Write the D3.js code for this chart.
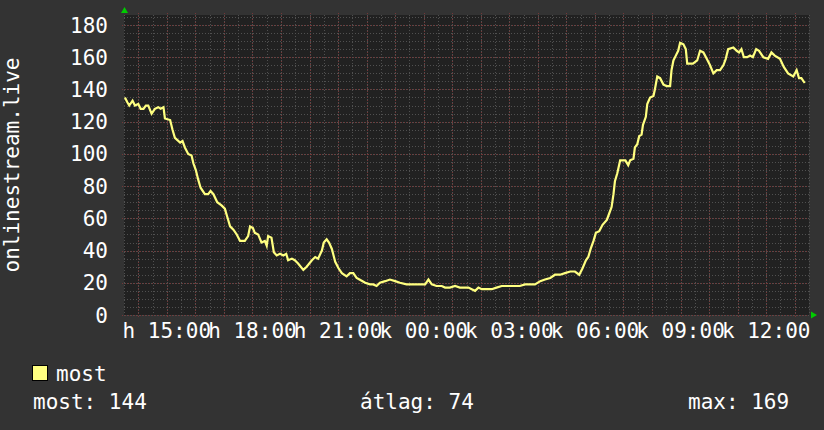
<!DOCTYPE html>
<html>
<head>
<meta charset="utf-8">
<script src="https://cdn.jsdelivr.net/npm/d3@7"></script>
<style>
  body { margin: 0; background: #333333; }
  svg text { font-family: 'DejaVu Sans Mono', monospace; fill: #ffffff; }
</style>
</head>
<body>
<div id="chart"></div>
<script>
// minutes after Monday 13:30
var mins = [2, 7, 11, 18, 23, 30, 35, 41, 46, 51,
  58, 65, 72, 77, 83, 86, 97, 102, 107, 118,
  123, 128, 135, 142, 146, 151, 156, 161, 170, 177,
  182, 188, 196, 205, 212, 217, 223, 230, 237, 244,
  254, 261, 265, 271, 275, 282, 289, 296, 300, 303,
  310, 315, 321, 328, 335, 341, 345, 353, 359, 366,
  377, 384, 395, 402, 408, 416, 420, 426, 431, 437,
  444, 451, 458, 468, 475, 482, 489, 495,
  507, 517, 524, 531, 538, 549, 559, 570, 580, 594,
  608, 622, 633, 640, 647, 657, 668, 675, 685, 696,
  706, 717, 724, 731, 738, 745, 752, 762, 773, 783,
  794, 805, 818, 832, 843, 853, 864, 875, 885, 896,
  906, 917, 927, 938, 948, 957, 964, 971, 976, 981,
  987, 992, 999, 1006, 1015, 1020, 1025, 1029, 1032, 1037,
  1043, 1054, 1060, 1064, 1071, 1074, 1079, 1083, 1088, 1091,
  1097, 1100, 1106, 1113, 1116, 1121, 1127, 1134, 1141, 1148,
  1151, 1155, 1160, 1165, 1169, 1176, 1181, 1184, 1196, 1205,
  1211, 1218, 1225, 1232, 1239, 1246, 1253, 1260, 1265, 1270,
  1281, 1288, 1293, 1298, 1303, 1310, 1316, 1322, 1329, 1335,
  1344, 1354, 1361, 1368, 1379, 1387, 1396, 1407, 1414, 1419,
  1424, 1431];

var users = [135, 132, 130, 133, 130, 131, 128, 128, 130, 130,
  125, 128, 129, 128, 129, 122, 121, 115, 110, 107,
  108, 104, 100, 99, 94, 90, 84, 79, 75, 75,
  77, 75, 70, 68, 66, 61, 55, 53, 50, 46,
  46, 49, 55, 54, 51, 50, 45, 46, 43, 49,
  48, 39, 37, 38, 37, 38, 34, 35, 34, 32,
  28, 30, 34, 36, 35, 40, 45, 47, 45, 41,
  33, 29, 26, 24, 26, 26, 23, 22,
  20, 19, 19, 18, 20, 21, 22, 21, 20, 19,
  19, 19, 19, 22, 19, 18, 18, 17, 17, 18,
  17, 17, 17, 16, 15, 17, 16, 16, 16, 17,
  18, 18, 18, 18, 19, 19, 19, 21, 22, 23,
  25, 25, 26, 27, 27, 25, 29, 34, 36, 41,
  46, 51, 52, 56, 59, 63, 67, 75, 83, 88,
  96, 96, 93, 96, 97, 104, 106, 111, 112, 118,
  123, 131, 135, 136, 140, 148, 147, 143, 142, 142,
  152, 158, 161, 164, 169, 168, 165, 156, 156, 158,
  164, 163, 159, 155, 150, 152, 152, 155, 159, 165,
  166, 164, 163, 165, 160, 160, 161, 160, 165, 164,
  160, 159, 163, 161, 159, 154, 150, 148, 152, 147,
  147, 144];

var yTicks = [0, 20, 40, 60, 80, 100, 120, 140, 160, 180];
var xTickLabels = ['h 15:00', 'h 18:00', 'h 21:00', 'k 00:00', 'k 03:00', 'k 06:00', 'k 09:00', 'k 12:00'];
var legendStats = ['most: 144', 'átlag: 74', 'max: 169'];

var W = 824, H = 430;
var margin = { top: 15, right: 15, bottom: 115, left: 124 };
var start = new Date(2024, 0, 1, 13, 30);
var end = new Date(2024, 0, 2, 13, 30);

var svg = d3.select('#chart').append('svg')
  .attr('width', W)
  .attr('height', H);

svg.append('rect').attr('width', W).attr('height', H).attr('fill', '#333333');

var x = d3.scaleTime().domain([start, end]).range([margin.left, W - margin.right]);
var y = d3.scaleLinear().domain([0, 180 * 300 / 290]).range([H - margin.bottom, margin.top]);

var data = mins.map(function (m, i) {
  return { t: d3.timeMinute.offset(start, m), v: users[i] };
});

// plot area
svg.append('rect')
  .attr('x', x.range()[0])
  .attr('y', y.range()[1])
  .attr('width', x.range()[1] - x.range()[0])
  .attr('height', y.range()[0] - y.range()[1])
  .attr('fill', '#212121');

var grid = svg.append('g').attr('shape-rendering', 'crispEdges');

// minor grid
grid.selectAll('line.vmin')
  .data(x.ticks(d3.timeMinute.every(30)))
  .enter().append('line')
  .attr('x1', function (d) { return Math.round(x(d)) + 0.5; })
  .attr('x2', function (d) { return Math.round(x(d)) + 0.5; })
  .attr('y1', y.range()[1])
  .attr('y2', y.range()[0])
  .attr('stroke', '#505050')
  .attr('stroke-dasharray', '1,2');

grid.selectAll('line.hmin')
  .data(d3.range(0, 186, 5))
  .enter().append('line')
  .attr('x1', x.range()[0])
  .attr('x2', x.range()[1])
  .attr('y1', function (d) { return Math.round(y(d)) + 0.5; })
  .attr('y2', function (d) { return Math.round(y(d)) + 0.5; })
  .attr('stroke', '#505050')
  .attr('stroke-dasharray', '1,2');

// major grid
grid.selectAll('line.vmaj')
  .data(x.ticks(d3.timeHour.every(1)))
  .enter().append('line')
  .attr('x1', function (d) { return Math.round(x(d)) + 0.5; })
  .attr('x2', function (d) { return Math.round(x(d)) + 0.5; })
  .attr('y1', y.range()[1] - 2)
  .attr('y2', y.range()[0] + 2)
  .attr('stroke', '#743636')
  .attr('stroke-dasharray', '1,2');

grid.selectAll('line.hmaj')
  .data(yTicks)
  .enter().append('line')
  .attr('x1', x.range()[0] - 2)
  .attr('x2', x.range()[1])
  .attr('y1', function (d) { return Math.round(y(d)) + 0.5; })
  .attr('y2', function (d) { return Math.round(y(d)) + 0.5; })
  .attr('stroke', '#743636')
  .attr('stroke-dasharray', '1,2');

// axis arrows
svg.append('path')
  .attr('d', 'M' + (x.range()[0] - 3) + ',' + (y.range()[1] - 2) + 'l3.5,-6l3.5,6z')
  .attr('fill', '#00cc00');
svg.append('path')
  .attr('d', 'M' + (x.range()[1] + 2) + ',' + (y.range()[0] - 3.5) + 'l6,3.5l-6,3.5z')
  .attr('fill', '#00cc00');

// y labels
svg.append('g').selectAll('text')
  .data(yTicks)
  .enter().append('text')
  .attr('x', 108)
  .attr('y', function (d) { return y(d); })
  .attr('dy', '0.36em')
  .attr('text-anchor', 'end')
  .style('font-size', '21px')
  .text(function (d) { return d; });

// x labels every 3 hours
var labelTicks = x.ticks(d3.timeHour.every(3)).filter(function (d) { return d > start; });
svg.append('g').selectAll('text')
  .data(labelTicks)
  .enter().append('text')
  .attr('x', function (d) { return x(d); })
  .attr('y', 338)
  .attr('text-anchor', 'middle')
  .style('font-size', '21px')
  .text(function (d, i) { return xTickLabels[i]; });

// vertical title
svg.append('text')
  .attr('transform', 'translate(19,' + ((y.range()[0] + y.range()[1]) / 2) + ') rotate(-90)')
  .attr('text-anchor', 'middle')
  .style('font-size', '21px')
  .text('onlinestream.live');

// series line
var line = d3.line()
  .x(function (d) { return x(d.t); })
  .y(function (d) { return y(d.v); });

svg.append('path')
  .datum(data)
  .attr('d', line)
  .attr('fill', 'none')
  .attr('stroke', '#ffff80')
  .attr('stroke-width', 2.2)
  .attr('stroke-linejoin', 'miter');

// legend
svg.append('rect')
  .attr('x', 32.5).attr('y', 365.5)
  .attr('width', 15).attr('height', 15)
  .attr('fill', '#ffff80')
  .attr('stroke', '#000000');

svg.append('text')
  .attr('x', 56).attr('y', 381)
  .style('font-size', '21px')
  .text('most');

var statX = [33, 360, 688];
svg.append('g').selectAll('text')
  .data(legendStats)
  .enter().append('text')
  .attr('x', function (d, i) { return statX[i]; })
  .attr('y', 409)
  .style('font-size', '21px')
  .text(function (d) { return d; });
</script>
</body>
</html>
